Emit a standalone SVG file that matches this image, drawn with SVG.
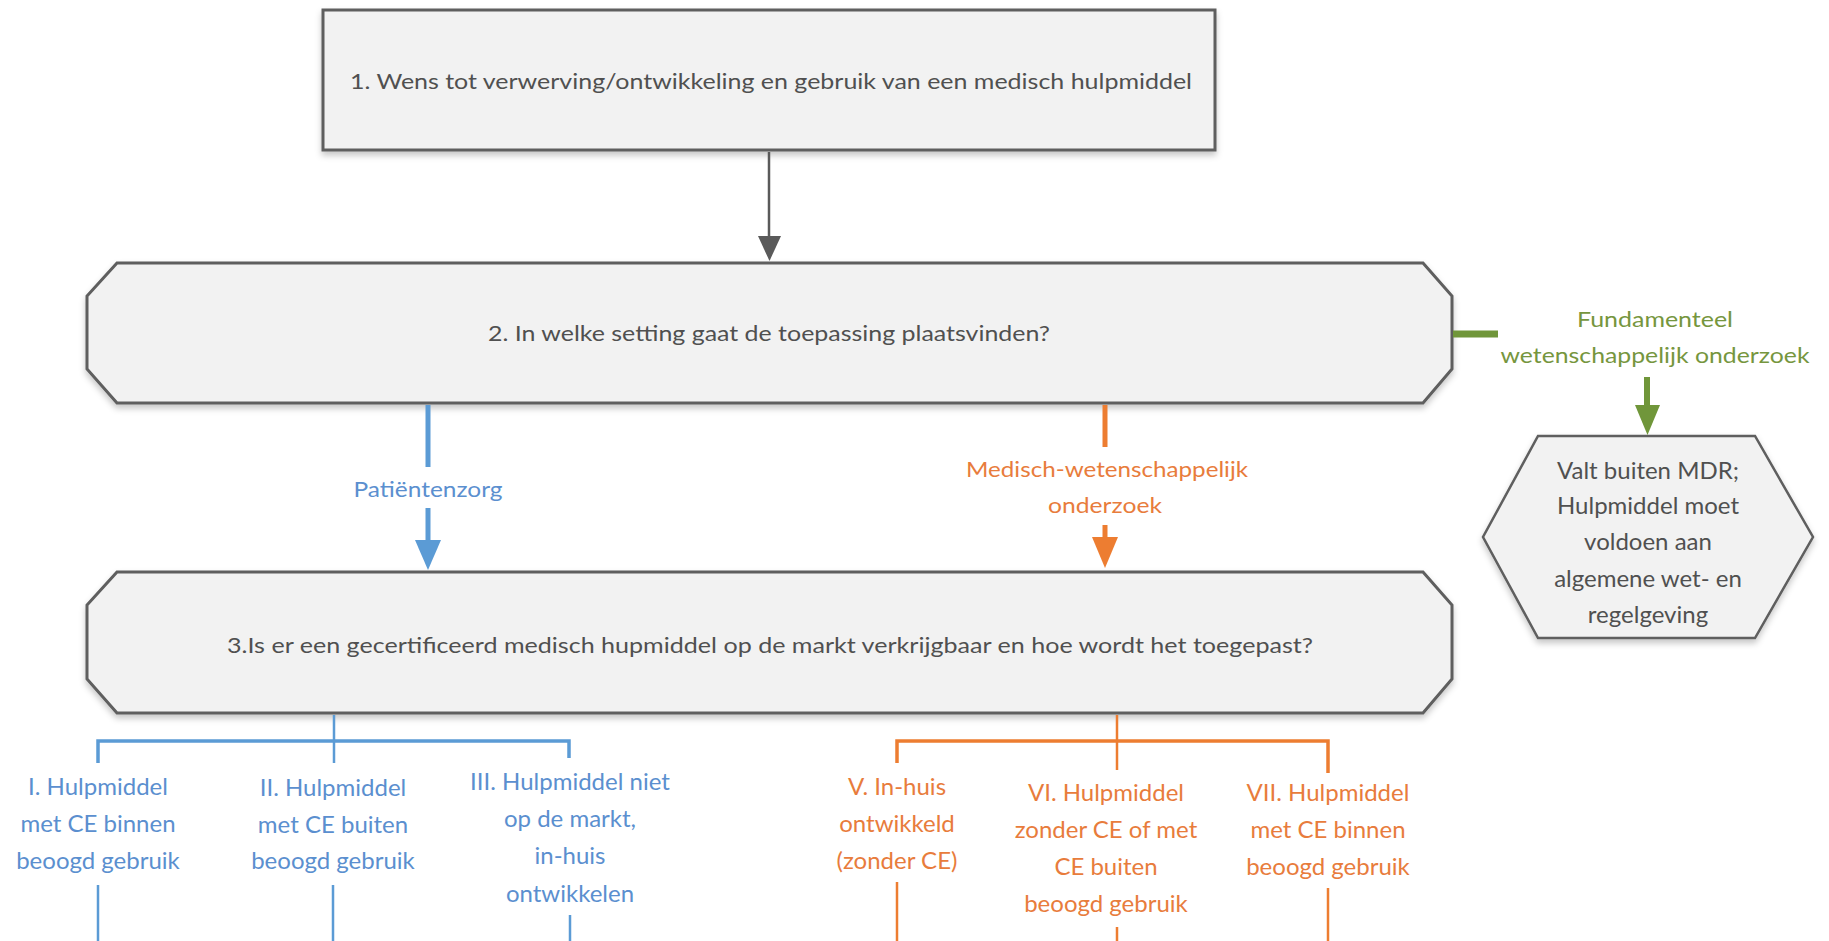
<svg xmlns="http://www.w3.org/2000/svg" width="1829" height="941" viewBox="0 0 1829 941">
<style>
.box{fill:#f2f2f2;stroke:#5e5e5e;stroke-width:3;filter:url(#sh)}
.hex{fill:#f2f2f2;stroke:#5e5e5e;stroke-width:2.5;filter:url(#sh)}
text{font-family:Lato,"Open Sans","Liberation Sans",sans-serif;font-size:22px;text-anchor:middle}
.lbl text{font-size:24px}
.t{fill:#505050}
.b{fill:#5b8fcf}
.o{fill:#e87c3c}
.g{fill:#76963e}
.lb{stroke:#5b9bd5;fill:none}
.lo{stroke:#ed7d31;fill:none}
.lg{stroke:#70963a;fill:none}
</style>
<defs>
<filter id="sh" x="-5%" y="-10%" width="110%" height="130%">
<feDropShadow dx="0" dy="4" stdDeviation="3" flood-color="#000" flood-opacity="0.22"/>
</filter>
</defs>
<g id="n1">
<rect class="box" x="323" y="10" width="892" height="140"/>
<text class="t" x="771" y="89" textLength="842" lengthAdjust="spacingAndGlyphs">1. Wens tot verwerving/ontwikkeling en gebruik van een medisch hulpmiddel</text>
</g>
<g id="n2">
<polygon class="box" points="117,263 1423,263 1452,296 1452,369 1423,403 117,403 87,369 87,296"/>
<text class="t" x="769" y="341" textLength="562" lengthAdjust="spacingAndGlyphs">2. In welke setting gaat de toepassing plaatsvinden?</text>
</g>
<g id="n3">
<polygon class="box" points="117,572 1423,572 1452,605 1452,679 1423,713 117,713 87,679 87,605"/>
<text class="t" x="770" y="653" textLength="1086" lengthAdjust="spacingAndGlyphs">3.Is er een gecertificeerd medisch hupmiddel op de markt verkrijgbaar en hoe wordt het toegepast?</text>
</g>
<g id="n4" class="lbl">
<polygon class="hex" points="1538,436 1755,436 1813,537 1755,638 1538,638 1483,537"/>
<text class="t" x="1648" y="479">Valt buiten MDR;</text>
<text class="t" x="1648" y="514">Hulpmiddel moet</text>
<text class="t" x="1648" y="550">voldoen aan</text>
<text class="t" x="1648" y="587">algemene wet- en</text>
<text class="t" x="1648" y="623">regelgeving</text>
</g>
<g id="labels">
<text class="b" x="428" y="497" textLength="149" lengthAdjust="spacingAndGlyphs">Patiëntenzorg</text>
<text class="o" x="1107" y="477" textLength="282" lengthAdjust="spacingAndGlyphs">Medisch-wetenschappelijk</text>
<text class="o" x="1105" y="513" textLength="114" lengthAdjust="spacingAndGlyphs">onderzoek</text>
<text class="g" x="1655" y="327" textLength="156" lengthAdjust="spacingAndGlyphs">Fundamenteel</text>
<text class="g" x="1655" y="363" textLength="309" lengthAdjust="spacingAndGlyphs">wetenschappelijk onderzoek</text>
</g>
<g id="nI" class="lbl">
<text class="b" x="98" y="795">I. Hulpmiddel</text>
<text class="b" x="98" y="832">met CE binnen</text>
<text class="b" x="98" y="869">beoogd gebruik</text>
</g>
<g id="nII" class="lbl">
<text class="b" x="333" y="796">II. Hulpmiddel</text>
<text class="b" x="333" y="833">met CE buiten</text>
<text class="b" x="333" y="869">beoogd gebruik</text>
</g>
<g id="nIII" class="lbl">
<text class="b" x="570" y="790">III. Hulpmiddel niet</text>
<text class="b" x="570" y="827">op de markt,</text>
<text class="b" x="570" y="864">in-huis</text>
<text class="b" x="570" y="902">ontwikkelen</text>
</g>
<g id="nV" class="lbl">
<text class="o" x="897" y="795">V. In-huis</text>
<text class="o" x="897" y="832">ontwikkeld</text>
<text class="o" x="897" y="869">(zonder CE)</text>
</g>
<g id="nVI" class="lbl">
<text class="o" x="1106" y="801">VI. Hulpmiddel</text>
<text class="o" x="1106" y="838">zonder CE of met</text>
<text class="o" x="1106" y="875">CE buiten</text>
<text class="o" x="1106" y="912">beoogd gebruik</text>
</g>
<g id="nVII" class="lbl">
<text class="o" x="1328" y="801">VII. Hulpmiddel</text>
<text class="o" x="1328" y="838">met CE binnen</text>
<text class="o" x="1328" y="875">beoogd gebruik</text>
</g>
<g id="connectors">
<line x1="769" y1="152" x2="769" y2="238" stroke="#5a5a5a" stroke-width="2.5"/>
<polygon points="758,236 781,236 769.5,261" fill="#5a5a5a"/>
<line class="lb" x1="428" y1="405" x2="428" y2="467" stroke-width="5"/>
<line class="lb" x1="428" y1="508" x2="428" y2="542" stroke-width="5"/>
<polygon points="415,540 441,540 428,570" fill="#5b9bd5"/>
<line class="lo" x1="1105" y1="405" x2="1105" y2="447" stroke-width="5"/>
<line class="lo" x1="1105" y1="525" x2="1105" y2="539" stroke-width="5"/>
<polygon points="1092,537 1118,537 1105,568" fill="#ed7d31"/>
<line class="lg" x1="1453" y1="334" x2="1498" y2="334" stroke-width="7"/>
<line class="lg" x1="1647" y1="377" x2="1647" y2="407" stroke-width="6"/>
<polygon points="1635,405 1660,405 1647.5,435" fill="#70963a"/>
<line class="lb" x1="334" y1="715" x2="334" y2="763" stroke-width="2.5"/>
<polyline class="lb" points="98,763 98,741 569,741 569,758" stroke-width="3.5"/>
<line class="lb" x1="98" y1="885" x2="98" y2="941" stroke-width="2.5"/>
<line class="lb" x1="333" y1="885" x2="333" y2="941" stroke-width="2.5"/>
<line class="lb" x1="570" y1="915" x2="570" y2="941" stroke-width="2.5"/>
<line class="lo" x1="1117" y1="715" x2="1117" y2="770" stroke-width="2.5"/>
<polyline class="lo" points="897,763 897,741 1328,741 1328,773" stroke-width="3.5"/>
<line class="lo" x1="897" y1="882" x2="897" y2="941" stroke-width="2.5"/>
<line class="lo" x1="1117" y1="927" x2="1117" y2="941" stroke-width="2.5"/>
<line class="lo" x1="1328" y1="888" x2="1328" y2="941" stroke-width="2.5"/>
</g>
</svg>
